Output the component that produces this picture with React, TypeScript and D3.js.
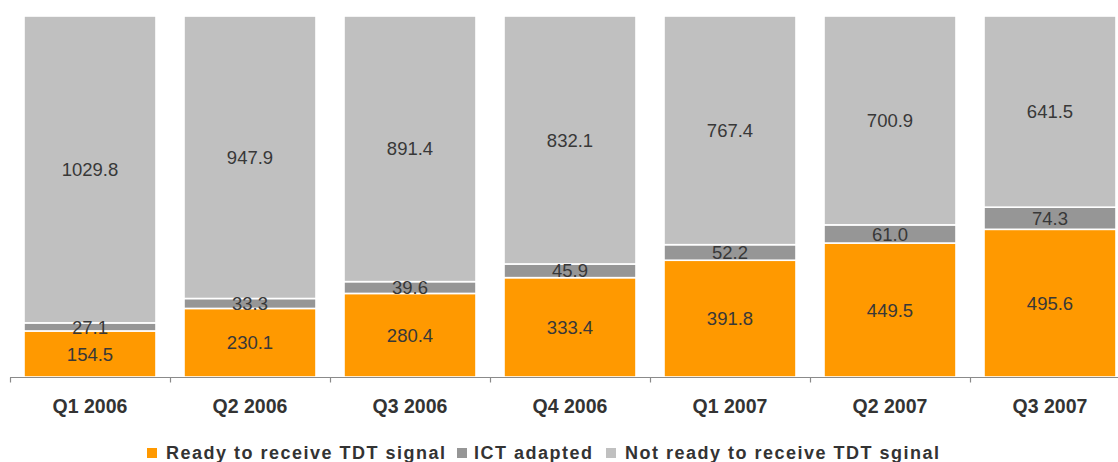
import React from "react";
import * as d3 from "d3";

const categories = ["Q1 2006", "Q2 2006", "Q3 2006", "Q4 2006", "Q1 2007", "Q2 2007", "Q3 2007"];
const ready = [154.5, 230.1, 280.4, 333.4, 391.8, 449.5, 495.6];
const ictAdapted = [27.1, 33.3, 39.6, 45.9, 52.2, 61.0, 74.3];
const notReady = [1029.8, 947.9, 891.4, 832.1, 767.4, 700.9, 641.5];
const seriesNames = ["Ready to receive TDT signal", "ICT adapted", "Not ready to receive TDT sginal"];
const seriesColors = ["#FF9900", "#969696", "#C0C0C0"];

const W = 1118;
const H = 462;
const FONT = "'Liberation Sans', Arial, Helvetica, sans-serif";

export default function App() {
  const rows = categories.map((c, i) => ({ cat: c, a: ready[i], b: ictAdapted[i], c2: notReady[i] }));
  const stack = d3.stack<any>().keys(["a", "b", "c2"])(rows);
  const maxTotal = d3.max(rows, (r) => r.a + r.b + r.c2) as number;

  const x = d3.scaleBand().domain(categories).range([10, 1130]).paddingInner(0.175).paddingOuter(0.0875);
  const y = d3.scaleLinear().domain([0, maxTotal]).range([377, 16]);
  const step = x.step();
  const axisY = 377.5;

  const legendSquares = [147, 457, 606];
  const legendTexts = [166, 474, 625];

  return (
    <svg width={W} height={H} style={{ position: "absolute", left: 0, top: 0, display: "block" }}>
      <rect x={0} y={0} width={W} height={H} fill="#fff" />
      {stack.map((s, si) => (
        <g key={si}>
          {s.map((d, i) => (
            <rect
              key={i}
              x={x(categories[i])}
              y={y(d[1])}
              width={x.bandwidth()}
              height={y(d[0]) - y(d[1])}
              fill={seriesColors[si]}
              stroke="#fff"
              strokeWidth={1.6}
            />
          ))}
        </g>
      ))}
      {stack.map((s, si) => (
        <g key={"l" + si}>
          {s.map((d, i) => (
            <text
              key={i}
              x={(x(categories[i]) as number) + x.bandwidth() / 2}
              y={(y(d[0]) + y(d[1])) / 2}
              dy="0.36em"
              textAnchor="middle"
              fontFamily={FONT}
              fontSize={18.5}
              fill="#383838"
            >
              {(d[1] - d[0]).toFixed(1)}
            </text>
          ))}
        </g>
      ))}
      <line x1={10} x2={W} y1={axisY} y2={axisY} stroke="#8a8a8a" strokeWidth={1.2} />
      {d3.range(categories.length + 1).map((k) => (
        <line
          key={k}
          x1={10.5 + k * step}
          x2={10.5 + k * step}
          y1={axisY}
          y2={axisY + 5}
          stroke="#8a8a8a"
          strokeWidth={1.2}
        />
      ))}
      {categories.map((c) => (
        <text
          key={c}
          x={(x(c) as number) + x.bandwidth() / 2}
          y={413}
          textAnchor="middle"
          fontFamily={FONT}
          fontWeight="bold"
          fontSize={19.5}
          fill="#333"
        >
          {c}
        </text>
      ))}
      {seriesNames.map((n, i) => (
        <g key={n}>
          <rect x={legendSquares[i]} y={448} width={10} height={10} fill={seriesColors[i]} />
          <text
            x={legendTexts[i]}
            y={459}
            fontFamily={FONT}
            fontWeight="bold"
            fontSize={18}
            letterSpacing={1.5}
            fill="#333"
          >
            {n}
          </text>
        </g>
      ))}
    </svg>
  );
}
